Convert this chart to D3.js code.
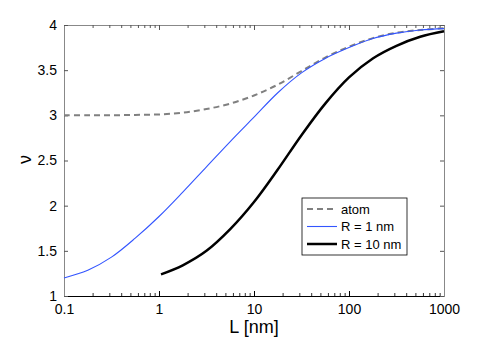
<!DOCTYPE html>
<html>
<head>
<meta charset="utf-8">
<script src="https://cdn.jsdelivr.net/npm/d3@7"></script>
<style>
  body { margin: 0; background: #fff; }
  text { font-family: "Liberation Sans", Arial, sans-serif; }
</style>
</head>
<body>
<div id="chart"></div>
<script>
// data (quarter-decade steps in L)
const lenAll = [0.1, 0.178, 0.316, 0.562, 1, 1.78, 3.16, 5.62, 10, 17.8, 31.6, 56.2, 100, 178, 316, 562, 1000];
const atomVals = [3.00, 3.00, 3.00, 3.005, 3.01, 3.03, 3.07, 3.13, 3.22, 3.34, 3.49, 3.64, 3.76, 3.855, 3.915, 3.945, 3.965];
const r1Vals = [1.20, 1.285, 1.43, 1.64, 1.88, 2.15, 2.43, 2.71, 2.98, 3.25, 3.47, 3.63, 3.75, 3.85, 3.91, 3.945, 3.96];
const lenR10 = [1.05, 1.78, 3.16, 5.62, 10, 17.8, 31.6, 56.2, 100, 178, 316, 562, 1000];
const r10Vals = [1.24, 1.34, 1.50, 1.74, 2.04, 2.40, 2.78, 3.13, 3.42, 3.63, 3.77, 3.87, 3.93];
const xTicks = [0.1, 1, 10, 100, 1000];
const yTicks = [1, 1.5, 2, 2.5, 3, 3.5, 4];
const legendLabels = ["atom", "R = 1 nm", "R = 10 nm"];

const margin = { top: 25, right: 47, bottom: 42, left: 64 };
const width = 491 - margin.left - margin.right;
const height = 338 - margin.top - margin.bottom;

const svg = d3.select("#chart").append("svg")
    .attr("width", 491)
    .attr("height", 338)
    .append("g")
    .attr("transform", `translate(${margin.left},${margin.top})`);

const x = d3.scaleLog().domain([0.1, 1000]).range([0, width]);
const y = d3.scaleLinear().domain([1, 4]).range([height, 0]);

const minor = [];
for (let e = -1; e < 3; e++) {
    for (let k = 2; k <= 9; k++) minor.push(k * Math.pow(10, e));
}

// axes (ticks inward, matlab style)
const fmt = d => String(d);
svg.append("g")
    .attr("transform", `translate(0,${height})`)
    .call(d3.axisBottom(x).tickValues(xTicks).tickFormat(fmt).tickSizeInner(-5).tickSizeOuter(0).tickPadding(8))
    .call(g => g.select(".domain").attr("stroke", "#000"));
svg.append("g")
    .attr("transform", `translate(0,${height})`)
    .call(d3.axisBottom(x).tickValues(minor).tickFormat("").tickSizeInner(-3).tickSizeOuter(0))
    .call(g => g.select(".domain").remove())
    .call(g => g.selectAll("line").attr("stroke", "#333"));
svg.append("g")
    .call(d3.axisTop(x).tickValues(xTicks).tickFormat("").tickSizeInner(-5).tickSizeOuter(0))
    .call(g => g.select(".domain").attr("stroke", "#888"))
    .call(g => g.selectAll("line").attr("stroke", "#555"));
svg.append("g")
    .call(d3.axisTop(x).tickValues(minor).tickFormat("").tickSizeInner(-3).tickSizeOuter(0))
    .call(g => g.select(".domain").remove())
    .call(g => g.selectAll("line").attr("stroke", "#555"));
svg.append("g")
    .call(d3.axisLeft(y).tickValues(yTicks).tickFormat(fmt).tickSizeInner(-4).tickSizeOuter(0).tickPadding(7))
    .call(g => g.select(".domain").attr("stroke", "#888"))
    .call(g => g.selectAll("line").attr("stroke", "#555"));
svg.append("g")
    .attr("transform", `translate(${width},0)`)
    .call(d3.axisRight(y).tickValues(yTicks).tickFormat("").tickSizeInner(-4).tickSizeOuter(0))
    .call(g => g.select(".domain").attr("stroke", "#888"))
    .call(g => g.selectAll("line").attr("stroke", "#555"));

svg.selectAll(".tick text")
    .style("font-size", "14px")
    .attr("fill", "#000");

// lines
const line = d3.line()
    .x(d => x(d[0]))
    .y(d => y(d[1]))
    .curve(d3.curveCatmullRom);

svg.append("path")
    .datum(d3.zip(lenAll, atomVals))
    .attr("fill", "none")
    .attr("stroke", "#808080")
    .attr("stroke-width", 2)
    .attr("stroke-dasharray", "6,4")
    .attr("d", line);

svg.append("path")
    .datum(d3.zip(lenAll, r1Vals))
    .attr("fill", "none")
    .attr("stroke", "#3355ff")
    .attr("stroke-width", 1.1)
    .attr("d", line);

svg.append("path")
    .datum(d3.zip(lenR10, r10Vals))
    .attr("fill", "none")
    .attr("stroke", "#000")
    .attr("stroke-width", 2.5)
    .attr("d", line);

// labels
svg.append("text")
    .attr("x", width / 2)
    .attr("y", height + 37)
    .attr("text-anchor", "middle")
    .style("font-size", "18px")
    .text("L [nm]");

svg.append("text")
    .attr("transform", `translate(-33,${height / 2 - 1}) rotate(-90)`)
    .attr("text-anchor", "middle")
    .style("font-size", "18px")
    .text("ν");

// legend
const lg = svg.append("g").attr("transform", `translate(${302 - margin.left},${198 - margin.top})`);
lg.append("rect")
    .attr("width", 105).attr("height", 57)
    .attr("fill", "#fff").attr("stroke", "#000").attr("stroke-width", 0.8);
const lgStyles = [
    { stroke: "#808080", w: 2, dash: "6,4" },
    { stroke: "#3355ff", w: 1.1, dash: null },
    { stroke: "#000", w: 2.5, dash: null }
];
legendLabels.forEach((t, i) => {
    const yy = 11 + i * 17.5;
    lg.append("line")
        .attr("x1", 5).attr("x2", 35).attr("y1", yy).attr("y2", yy)
        .attr("stroke", lgStyles[i].stroke)
        .attr("stroke-width", lgStyles[i].w)
        .attr("stroke-dasharray", lgStyles[i].dash);
    lg.append("text")
        .attr("x", 39).attr("y", yy + 4.5)
        .style("font-size", "13px")
        .text(t);
});
</script>
</body>
</html>
